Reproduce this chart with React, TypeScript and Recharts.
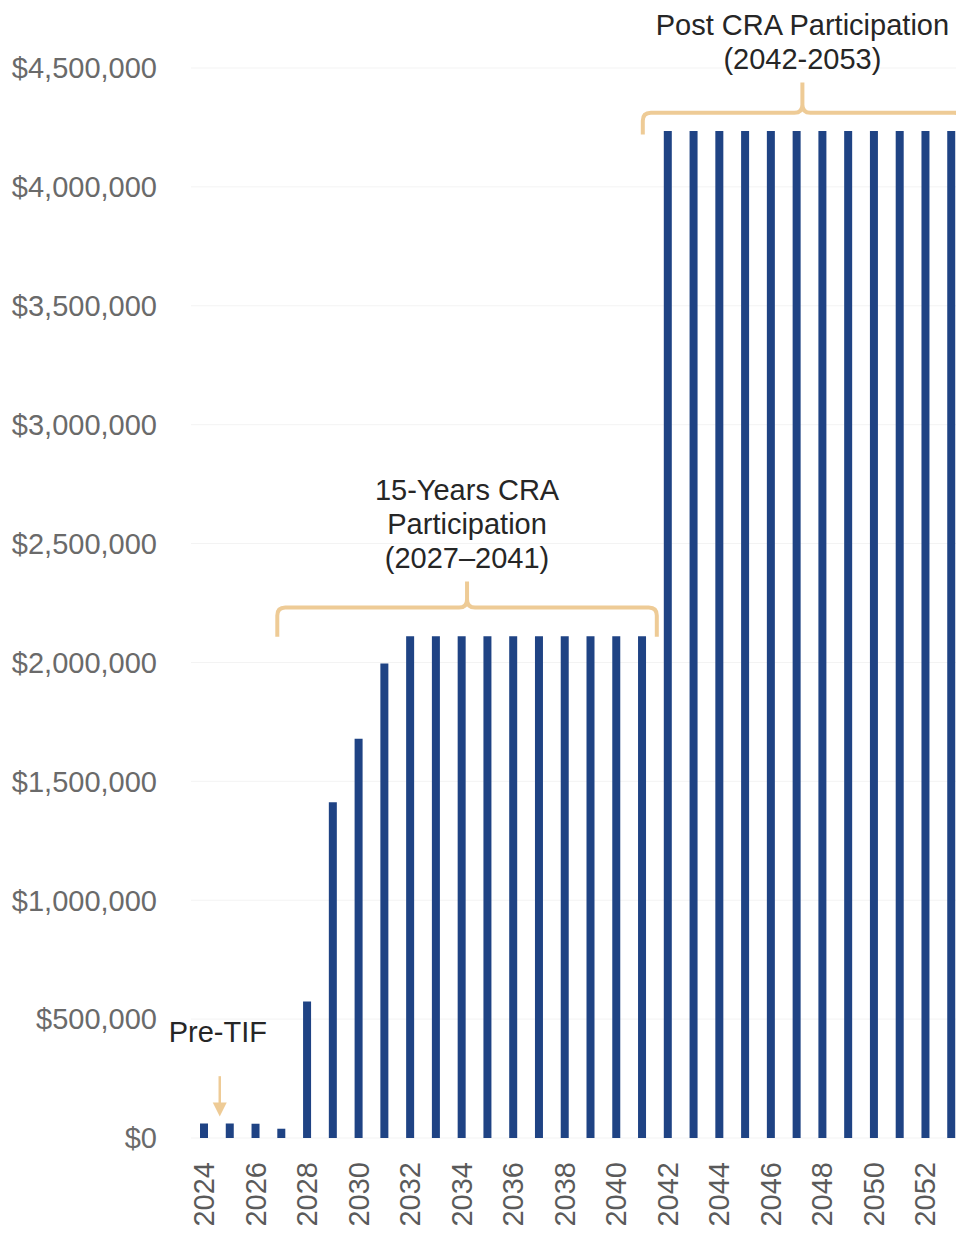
import { Bar, BarChart, CartesianGrid, ReferenceArea, XAxis, YAxis } from 'recharts';

const years = [
  '2024', '2025', '2026', '2027', '2028', '2029', '2030', '2031', '2032', '2033',
  '2034', '2035', '2036', '2037', '2038', '2039', '2040', '2041', '2042', '2043',
  '2044', '2045', '2046', '2047', '2048', '2049', '2050', '2051', '2052', '2053',
];

const revenue = [
  61000, 61000, 60000, 39000, 574000, 1412000, 1679000, 1996000, 2110000, 2110000,
  2110000, 2110000, 2110000, 2110000, 2110000, 2110000, 2110000, 2110000, 4235000, 4235000,
  4235000, 4235000, 4235000, 4235000, 4235000, 4235000, 4235000, 4235000, 4235000, 4235000,
];

const yTicks = [0, 500000, 1000000, 1500000, 2000000, 2500000, 3000000, 3500000, 4000000, 4500000];

const periods = [
  { from: '2027', to: '2041', low: 2108000, high: 2340000, lines: ['15-Years CRA', 'Participation', '(2027\u20132041)'] },
  { from: '2042', to: '2053', low: 4220000, high: 4439000, lines: ['Post CRA Participation', '(2042-2053)'] },
];

const preTif = { from: '2024', to: '2025', low: 90000, high: 260000, label: 'Pre-TIF' };

const data = years.map((year, i) => ({ year, value: revenue[i] }));

const BAR = '#1f4384';
const TAN = '#eecb96';
const FONT = "Arial, 'Liberation Sans', sans-serif";

const fmt = (v: number) => '$' + v.toLocaleString('en-US');

// nudges so braces line up with the printed ones
const braceInset = [
  { left: 9, right: 2, mid: 0.47 },
  { left: -12, right: -2, mid: 0.58 },
];

function renderBrace(p: any, lines: string[], idx: number) {
  const inset = braceInset[idx];
  const L = p.x + inset.left;
  const R = p.x + p.width + inset.right;
  const T = p.y;
  const B = p.y + p.height;
  const M = T + p.height * inset.mid;
  const C = (L + R) / 2;
  const r = 8;
  const d =
    `M${L},${B} L${L},${M + r} Q${L},${M} ${L + r},${M} L${C - r},${M} Q${C},${M} ${C},${M - r} L${C},${T} ` +
    `M${C},${M - r} Q${C},${M} ${C + r},${M} L${R - r},${M} Q${R},${M} ${R},${M + r} L${R},${B}`;
  return (
    <g>
      <path d={d} fill="none" stroke={TAN} strokeWidth={4} strokeLinejoin="round" />
      {lines.map((t, i) => (
        <text
          key={t}
          x={C}
          y={T - 14 - (lines.length - 1 - i) * 34}
          textAnchor="middle"
          fontFamily={FONT}
          fontSize={29}
          fill="#262626"
        >
          {t}
        </text>
      ))}
    </g>
  );
}

function renderArrow(p: any) {
  const cx = p.x + p.width / 2 + 3;
  const top = p.y;
  const tip = p.y + p.height;
  return (
    <g>
      <line x1={cx} y1={top} x2={cx} y2={tip - 12} stroke={TAN} strokeWidth={2.5} />
      <path d={`M${cx - 7},${tip - 14} L${cx + 7},${tip - 14} L${cx},${tip} Z`} fill={TAN} />
      <text x={cx - 2} y={top - 34} textAnchor="middle" fontFamily={FONT} fontSize={29} fill="#262626">
        {preTif.label}
      </text>
    </g>
  );
}

function YearTick({ x, y, payload }: any) {
  const ay = y + 24;
  return (
    <text
      x={x}
      y={ay}
      transform={`rotate(-90, ${x}, ${ay})`}
      textAnchor="end"
      dy="0.35em"
      fontFamily={FONT}
      fontSize={29}
      fill="#5a5a5a"
    >
      {payload.value}
    </text>
  );
}

export default function App() {
  // clip box keeps the page exactly one screen tall (no scrollbar)
  return (
    <div style={{ width: 956, height: 1220, overflow: 'hidden' }}>
      <BarChart width={956} height={1228} data={data} margin={{ top: 60, right: 0, bottom: 0, left: 0 }}>
        <CartesianGrid vertical={false} stroke="#f3f3f3" />
        <XAxis
          dataKey="year"
          interval={1}
          axisLine={false}
          tickLine={false}
          tickSize={0}
          tickMargin={0}
          height={98}
          tick={<YearTick />}
        />
        <YAxis
          width={183}
          domain={[0, 4500000]}
          ticks={yTicks}
          tickFormatter={fmt}
          axisLine={false}
          tickLine={false}
          tickSize={0}
          tickMargin={34}
          tick={{ fontFamily: FONT, fontSize: 29, fill: '#6a6a6a' }}
        />
        <Bar dataKey="value" fill={BAR} barSize={8} isAnimationActive={false} />
        {periods.map((a, i) => (
          <ReferenceArea
            key={a.from}
            x1={a.from}
            x2={a.to}
            y1={a.low}
            y2={a.high}
            ifOverflow="visible"
            shape={(p: any) => renderBrace(p, a.lines, i)}
          />
        ))}
        <ReferenceArea
          x1={preTif.from}
          x2={preTif.to}
          y1={preTif.low}
          y2={preTif.high}
          ifOverflow="visible"
          shape={(p: any) => renderArrow(p)}
        />
      </BarChart>
    </div>
  );
}
